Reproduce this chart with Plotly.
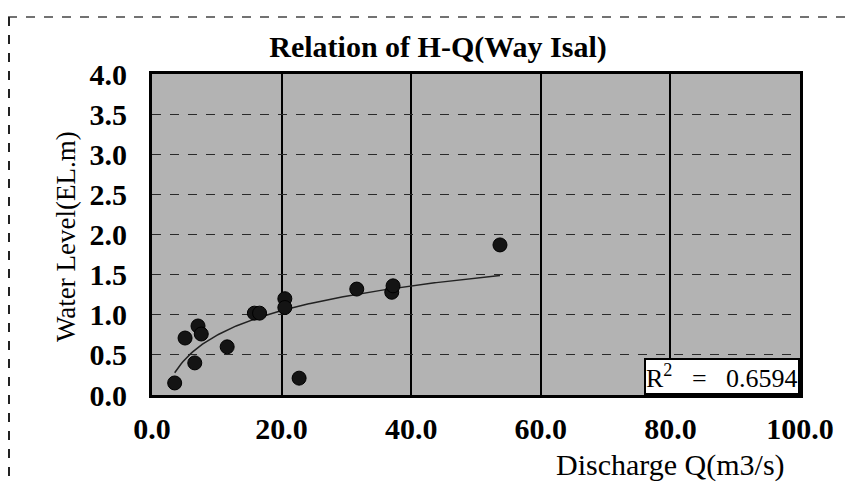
import numpy as np
import plotly.graph_objects as go

# Data
discharge = [3.5, 5.1, 6.6, 7.1, 7.6, 11.6, 15.8, 16.6, 20.5, 20.5, 22.7, 31.6, 37.0, 37.2, 53.7]
water_level = [0.15, 0.71, 0.40, 0.86, 0.76, 0.60, 1.02, 1.02, 1.20, 1.09, 0.21, 1.32, 1.28, 1.36, 1.87]
x_ticks = [0, 20, 40, 60, 80, 100]
y_ticks = [0.0, 0.5, 1.0, 1.5, 2.0, 2.5, 3.0, 3.5, 4.0]
title_text = "Relation of H-Q(Way Isal)"
x_title = "Discharge Q(m3/s)"
y_title = "Water Level(EL.m)"
r2_text = "R<sup>2</sup>\u00a0\u00a0\u00a0=\u00a0\u00a0\u00a00.6594"

# Logarithmic trend line fitted to the data
q = np.array(discharge)
h = np.array(water_level)
a, b = np.polyfit(np.log(q), h, 1)
q_fit = np.linspace(q.min(), q.max(), 200)
h_fit = a * np.log(q_fit) + b

FONT = "Liberation Serif, Times New Roman, serif"

fig = go.Figure()
fig.add_trace(go.Scatter(x=q_fit, y=h_fit, mode="lines",
                         line=dict(color="#222", width=1.5), hoverinfo="skip"))
fig.add_trace(go.Scatter(x=discharge, y=water_level, mode="markers",
                         marker=dict(size=14, color="#141414",
                                     line=dict(color="#000", width=1))))

# page body adds an 8px offset, so the figure is 8px smaller on each side
W, H = 840, 476
L, T, R, B = 144, 66, 48, 89
pw, ph = W - L - R, H - T - B


def px(xp):
    return (xp - L) / pw


def py(yp):
    return (H - B - yp) / ph


fig.update_layout(
    width=W, height=H,
    margin=dict(l=L, r=R, t=T, b=B),
    paper_bgcolor="white",
    plot_bgcolor="#b3b3b3",
    showlegend=False,
    font=dict(family=FONT, color="black"),
    title=dict(text=title_text, x=430 / W, xanchor="center",
               y=1 - 38 / H, yanchor="middle",
               font=dict(family=FONT, size=30, color="black", weight="bold")),
    xaxis=dict(range=[0, 100], tickvals=x_ticks, ticktext=[f"{v:.1f}" for v in x_ticks],
               showgrid=True, gridcolor="black", gridwidth=2,
               showline=True, linecolor="black", linewidth=3, mirror=True,
               zeroline=False, ticks="", ticklabelstandoff=5,
               tickfont=dict(family=FONT, size=30, weight="bold")),
    yaxis=dict(range=[0, 4], tickvals=y_ticks, ticktext=[f"{v:.1f}" for v in y_ticks],
               showgrid=True, gridcolor="#2a2a2a", gridwidth=1, griddash="dash",
               showline=True, linecolor="black", linewidth=3, mirror=True,
               zeroline=False, ticks="", ticklabelstandoff=16,
               tickfont=dict(family=FONT, size=30, weight="bold")),
)

# Axis titles as annotations
fig.add_annotation(text=y_title, xref="paper", yref="paper",
                   x=px(58), y=py(229), textangle=-90,
                   showarrow=False, xanchor="center", yanchor="middle",
                   font=dict(family=FONT, size=27, color="black"))
fig.add_annotation(text=x_title, xref="paper", yref="paper",
                   x=px(662), y=py(457),
                   showarrow=False, xanchor="center", yanchor="middle",
                   font=dict(family=FONT, size=30, color="black"))
# R squared label
fig.add_annotation(text=r2_text, xref="paper", yref="paper",
                   x=1, y=0, xanchor="right", yanchor="bottom",
                   showarrow=False, bgcolor="white", bordercolor="black",
                   borderwidth=2, borderpad=0,
                   font=dict(family=FONT, size=26, color="black"))

# Outer dashed border of the scanned figure (top and left edges)
fig.add_shape(type="line", xref="paper", yref="paper",
              x0=px(0), x1=px(W), y0=py(9), y1=py(9),
              line=dict(color="#444", width=1.5, dash="dash"))
fig.add_shape(type="line", xref="paper", yref="paper",
              x0=px(1), x1=px(1), y0=py(9), y1=py(H),
              line=dict(color="#222", width=2, dash="dash"))

fig.write_html("out.html")
